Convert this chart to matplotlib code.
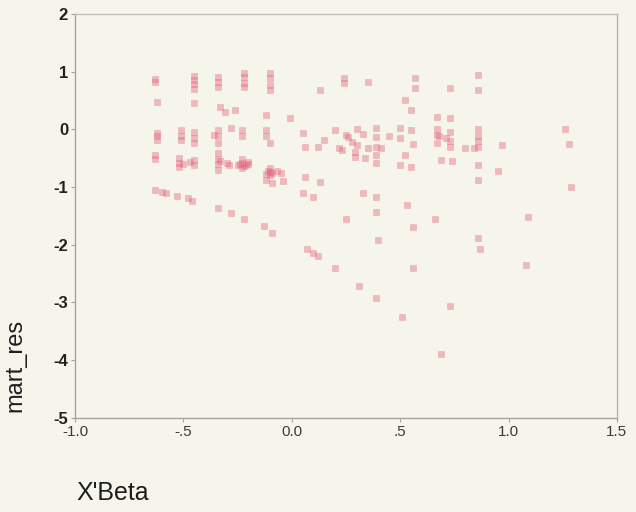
import numpy as np
import matplotlib.pyplot as plt

# X'Beta (linear predictor) and martingale residuals
xbeta = [
    -0.63, -0.63, -0.62, -0.62, -0.62, -0.63, -0.63, -0.63, -0.60, -0.58,
    -0.45, -0.45, -0.45, -0.45, -0.45, -0.51, -0.51, -0.51, -0.45, -0.45,
    -0.45, -0.52, -0.52, -0.52, -0.45, -0.45, -0.53, -0.48, -0.46,
    -0.34, -0.34, -0.34, -0.33, -0.31, -0.26, -0.34, -0.34, -0.34, -0.34,
    -0.34, -0.34, -0.34, -0.30, -0.29, -0.34, -0.28, -0.22,
    -0.22, -0.22, -0.22, -0.22, -0.28, -0.23, -0.23, -0.23, -0.23, -0.21,
    -0.25, -0.23, -0.20,
    -0.10, -0.10, -0.10, -0.10, -0.12, -0.01, -0.12, -0.12, -0.10, -0.10,
    -0.10, -0.10, -0.12, -0.09, -0.05, -0.04, -0.13, -0.09,
    0.05, 0.06, 0.06, 0.10, 0.05, 0.13, 0.13, 0.07, 0.12, 0.10, 0.20,
    0.24, 0.24, 0.35, 0.20, 0.25, 0.30, 0.39, 0.26, 0.30, 0.35, 0.22,
    0.23, 0.29, 0.29, 0.34, 0.39, 0.39, 0.39, 0.39, 0.33, 0.39, 0.39,
    0.25, 0.31, 0.39, 0.40, 0.56,
    0.57, 0.57, 0.52, 0.55, 0.50, 0.55, 0.50, 0.56, 0.52, 0.50, 0.55,
    0.53, 0.66, 0.56, 0.51, 0.73, 0.69,
    0.73, 0.67, 0.73, 0.67, 0.67, 0.67, 0.73, 0.73, 0.73, 0.69, 0.74,
    0.80, 0.84,
    0.86, 0.86, 0.86, 0.86, 0.86, 0.86, 0.86, 0.86, 0.86, 0.87, 0.95,
    0.97, 1.09, 1.08,
    1.26, 1.28, 1.29,
    # extra points inside the darker clusters
    -0.24, -0.22, -0.20, -0.11, -0.09, -0.07, -0.12, -0.47, -0.50, -0.36,
    -0.33, 0.28, 0.33, 0.68, 0.71, 0.45, 0.41, 0.15, 0.12, -0.62,
]
mart_res = [
    0.87, 0.82, 0.47, -0.07, -0.19, -0.45, -0.52, -1.06, -1.08, -1.10,
    0.92, 0.85, 0.78, 0.70, 0.45, -0.02, -0.12, -0.19, -0.05, -0.15,
    -0.24, -0.49, -0.58, -0.66, -0.54, -0.62, -1.15, -1.20, -1.24,
    0.90, 0.82, 0.73, 0.38, 0.30, 0.33, -0.02, -0.12, -0.24, -0.42,
    -0.52, -0.60, -0.70, -0.58, -0.62, -1.37, -1.45, -1.55,
    0.97, 0.90, 0.80, 0.73, 0.03, -0.02, -0.12, -0.52, -0.58, -0.62,
    -0.62, -0.68, -0.56,
    0.97, 0.88, 0.76, 0.68, 0.24, 0.19, -0.02, -0.12, -0.24, -0.68,
    -0.74, -0.80, -0.88, -0.94, -0.76, -0.90, -1.68, -1.79,
    -0.07, -0.31, -0.82, -1.17, -1.10, -0.92, 0.68, -2.07, -2.19, -2.15, -2.41,
    0.88, 0.80, 0.82, -0.02, -0.10, 0.00, 0.02, -0.14, -0.28, -0.32, -0.33,
    -0.36, -0.40, -0.48, -0.50, -0.14, -0.30, -0.45, -0.58, -1.10, -1.18, -1.44,
    -1.55, -2.71, -2.92, -1.92, -2.40,
    0.88, 0.72, 0.50, 0.33, 0.02, -0.02, -0.15, -0.25, -0.45, -0.62, -0.66,
    -1.32, -1.55, -1.70, -3.26, -3.06, -3.89,
    0.71, 0.22, 0.20, 0.00, -0.10, -0.24, -0.05, -0.20, -0.30, -0.54, -0.55,
    -0.32, -0.32,
    0.94, 0.68, 0.00, -0.12, -0.20, -0.30, -0.62, -0.88, -1.88, -2.07, -0.72,
    -0.28, -1.52, -2.36,
    0.00, -0.25, -1.00,
    -0.60, -0.64, -0.60, -0.72, -0.76, -0.72, -0.78, -0.56, -0.60, -0.10,
    -0.55, -0.22, -0.08, -0.12, -0.15, -0.12, -0.32, -0.18, -0.30, -0.12,
]

x_ticks = [-1.0, -0.5, 0.0, 0.5, 1.0, 1.5]
x_ticklabels = ["-1.0", "-.5", "0.0", ".5", "1.0", "1.5"]
y_ticks = [2, 1, 0, -1, -2, -3, -4, -5]

bg = "#f6f5eb"
edge = "#a4a4a0"

fig = plt.figure(figsize=(6.36, 5.12), dpi=100, facecolor=bg)
ax = fig.add_axes([0.118, 0.184, 0.852, 0.789], facecolor=bg)

ax.plot(xbeta, mart_res, linestyle="none", marker="s", markersize=3.8,
        markerfacecolor="#e4667f", markeredgecolor="#e4667f",
        markeredgewidth=0.4, alpha=0.42)

ax.set_xlim(-1.0, 1.5)
ax.set_ylim(-5, 2)
ax.set_xticks(x_ticks)
ax.set_xticklabels(x_ticklabels, fontsize=11, color="#3a3a3a",
                   family="Liberation Sans")
ax.set_yticks(y_ticks)
ax.set_yticklabels([str(v) for v in y_ticks], fontsize=12, color="#222222",
                   family="Liberation Sans", fontweight="bold")
ax.tick_params(direction="out", length=3, width=0.8, color=edge, pad=2)

for s in ax.spines.values():
    s.set_color(edge)
    s.set_linewidth(1.0)
ax.spines["top"].set_color("#c2c2bc")
ax.spines["right"].set_color("#b4b4ae")

fig.text(0.025, 0.287, "mart_res", rotation=90, ha="center", va="center",
         fontsize=17, family="Liberation Sans", color="#1e1e1e")
fig.text(0.178, 0.037, "X'Beta", ha="center", va="center",
         fontsize=18, family="Liberation Sans", color="#1e1e1e")

fig.savefig("out.png", dpi=100, facecolor=bg)
